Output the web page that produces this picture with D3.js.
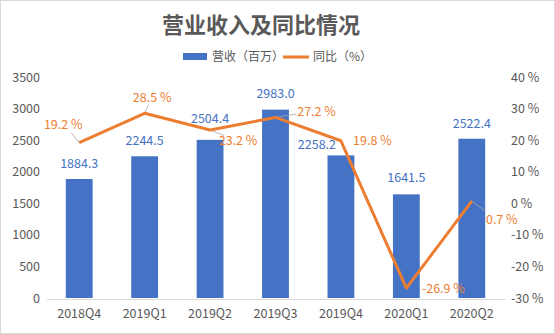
<!DOCTYPE html>
<html><head><meta charset="utf-8">
<script src="https://cdn.jsdelivr.net/npm/d3@7"></script>
<style>body{margin:0;background:#fff}svg{display:block}text{font-family:"Noto Sans CJK SC","Noto Sans",sans-serif}</style>
</head><body><svg id="c" width="555" height="334"></svg>
<script>
const categories = ["2018Q4","2019Q1","2019Q2","2019Q3","2019Q4","2020Q1","2020Q2"];
const revenue = [1884.3,2244.5,2504.4,2983.0,2258.2,1641.5,2522.4];
const yoy = [19.2,28.5,23.2,27.2,19.8,-26.9,0.7];
const leftTicks = [0,500,1000,1500,2000,2500,3000,3500];
const rightTicks = [-30,-20,-10,0,10,20,30,40];
// label offsets (dx, dy) relative to mark anchor
const barLabelOff = [[0,-11],[0,-11],[0,-17],[0,-12],[-24,-6],[0,-12],[0,-11]];
const lineLabelOff = [[-16,-18],[7.5,-15.5],[28,10],[41,-6],[31.5,0],[37,0],[30,18]];

const svg = d3.select("#c");
const W=555,H=334;
svg.append("rect").attr("x",0.5).attr("y",0.5).attr("width",W-1).attr("height",H-1).attr("fill","#fff").attr("stroke","#d9d9d9");
const x = d3.scaleBand().domain(categories).range([46.5,504.5]).paddingInner(0.59).paddingOuter(0.295);
const yL = d3.scaleLinear().domain([0,3500]).range([298,77]);
const yR = d3.scaleLinear().domain([-30,40]).range([298,77]);
const blue="#4472C4", orange="#ED7D31", grey="#595959";

svg.append("text").attr("x",261).attr("y",33).attr("text-anchor","middle").attr("font-size",22).attr("font-weight","bold").attr("fill",grey).text("营业收入及同比情况");
// legend
svg.append("rect").attr("x",183).attr("y",53).attr("width",24).attr("height",7).attr("fill",blue);
svg.append("text").attr("x",212).attr("y",61).attr("font-size",12).attr("fill",grey).text("营收（百万）");
svg.append("line").attr("x1",283).attr("x2",309).attr("y1",57).attr("y2",57).attr("stroke",orange).attr("stroke-width",3);
svg.append("text").attr("x",313).attr("y",61).attr("font-size",12).attr("fill",grey).text("同比（%）");

// axes
const ga = svg.append("g").attr("transform","translate(40,0)").call(d3.axisLeft(yL).tickValues(leftTicks).tickSize(0).tickPadding(0).tickFormat(d3.format("d")));
ga.select(".domain").remove();
ga.selectAll("text").attr("font-size",12.5).attr("fill",grey).attr("font-family","'Open Sans',sans-serif");
const gr = svg.append("g").attr("transform","translate(511,0)").call(d3.axisRight(yR).tickValues(rightTicks).tickSize(0).tickPadding(0).tickFormat(d=>d+" %"));
gr.select(".domain").remove();
gr.selectAll("text").attr("font-size",12.5).attr("fill",grey).attr("font-family","'Open Sans',sans-serif");
const gx = svg.append("g").attr("transform","translate(0,299)").call(d3.axisBottom(x).tickSize(0).tickPadding(10));
gx.select(".domain").attr("stroke","#d9d9d9");
gx.selectAll("text").attr("font-size",12.5).attr("fill",grey).attr("font-family","'Open Sans',sans-serif");

// bars
svg.selectAll("rect.bar").data(revenue).join("rect").attr("class","bar")
  .attr("x",(d,i)=>x(categories[i])).attr("width",x.bandwidth())
  .attr("y",d=>yL(d)).attr("height",d=>yL(0)-yL(d)).attr("fill",blue);

const cx = i=>x(categories[i])+x.bandwidth()/2;
// leader lines
[0,1,2,3,6].forEach(i=>{
  const o=lineLabelOff[i];
  svg.append("line").attr("x1",cx(i)).attr("y1",yR(yoy[i])).attr("x2",cx(i)+o[0]*(i===6?0.45:0.5)).attr("y2",yR(yoy[i])+o[1]*0.55)
   .attr("stroke","#a6a6a6").attr("stroke-width",0.8);
});
// line
svg.append("path").datum(yoy).attr("fill","none").attr("stroke",orange).attr("stroke-width",3).attr("stroke-linejoin","round")
  .attr("d",d3.line().x((d,i)=>cx(i)).y(d=>yR(d)));

// bar labels
svg.selectAll("text.bl").data(revenue).join("text").attr("class","bl")
  .attr("x",(d,i)=>cx(i)+barLabelOff[i][0]).attr("y",(d,i)=>yL(d)+barLabelOff[i][1])
  .attr("text-anchor","middle").attr("font-size",12.5).attr("fill",blue).attr("font-family","'Open Sans',sans-serif")
  .text(d=>d.toFixed(1));
// line labels
svg.selectAll("text.ll").data(yoy).join("text").attr("class","ll")
  .attr("x",(d,i)=>cx(i)+lineLabelOff[i][0]).attr("y",(d,i)=>yR(d)+lineLabelOff[i][1]+4.5)
  .attr("text-anchor","middle").attr("font-size",12.5).attr("fill",orange).attr("font-family","'Open Sans',sans-serif")
  .text(d=>d.toFixed(1)+" %");
</script></body></html>
